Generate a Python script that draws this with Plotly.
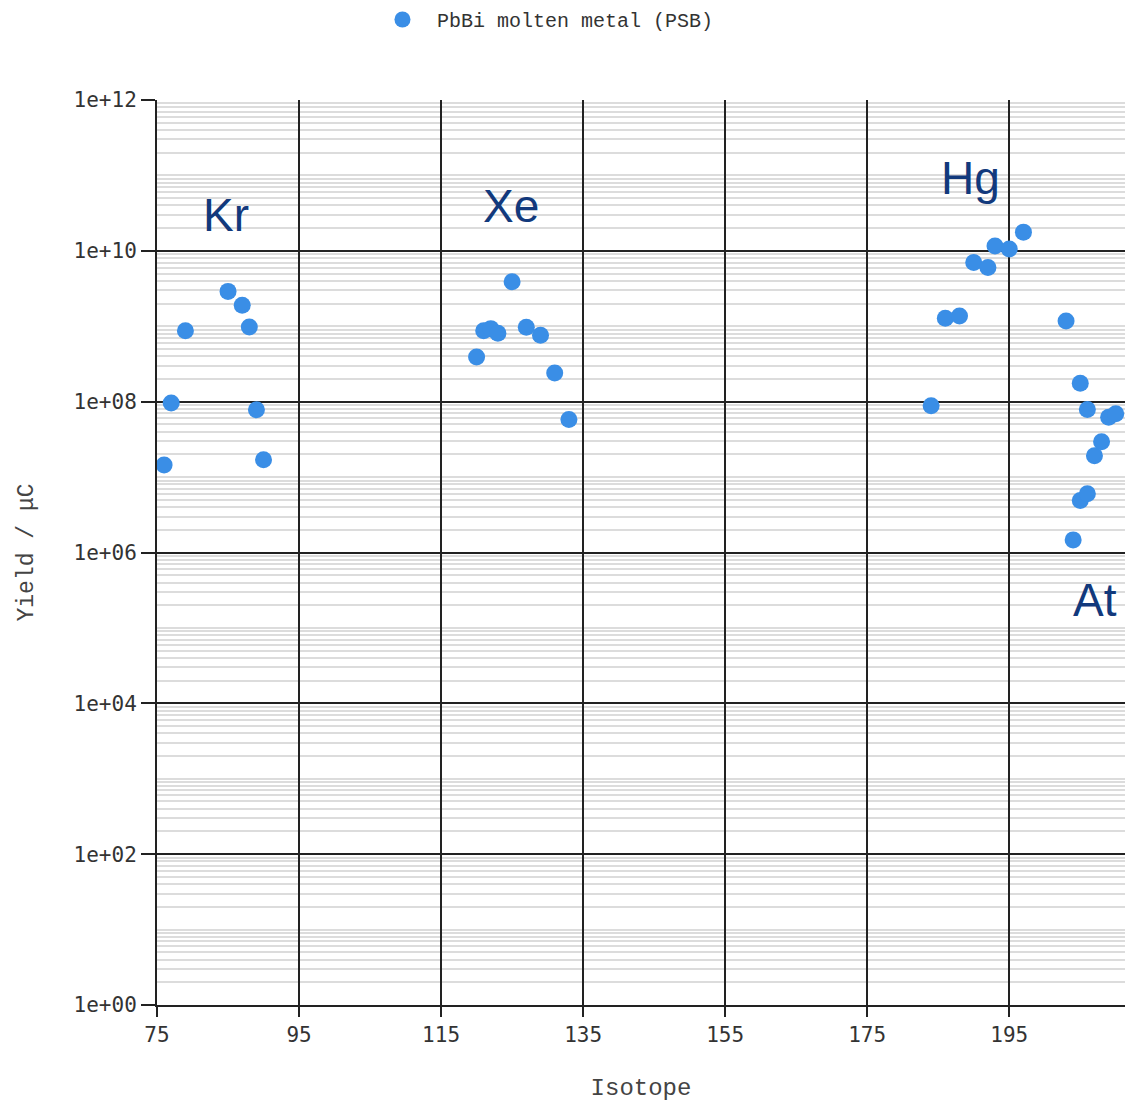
import plotly.graph_objects as go

# Data
kr_mass = [76, 77, 79, 85, 87, 88, 89, 90]
kr_yield = [1.45e7, 9.6e7, 8.7e8, 2.9e9, 1.9e9, 9.8e8, 7.8e7, 1.7e7]

xe_mass = [120, 121, 122, 123, 125, 127, 129, 131, 133]
xe_yield = [3.9e8, 8.7e8, 9.3e8, 8.1e8, 3.9e9, 9.7e8, 7.6e8, 2.4e8, 5.8e7]

hg_mass = [184, 186, 188, 190, 192, 193, 195, 197]
hg_yield = [8.8e7, 1.28e9, 1.37e9, 7.0e9, 6.0e9, 1.16e10, 1.06e10, 1.77e10]

at_mass = [203, 204, 205, 205, 206, 206, 207, 208, 209, 210]
at_yield = [1.17e9, 1.47e6, 1.75e8, 4.9e6, 7.9e7, 6.0e6, 1.92e7, 2.95e7, 6.2e7, 6.9e7]

x_all = kr_mass + xe_mass + hg_mass + at_mass
y_all = kr_yield + xe_yield + hg_yield + at_yield

y_tickvals = [1e0, 1e2, 1e4, 1e6, 1e8, 1e10, 1e12]
y_ticktext = ["1e+00", "1e+02", "1e+04", "1e+06", "1e+08", "1e+10", "1e+12"]

labels = ["Kr", "Xe", "Hg", "At"]
label_x = [84.7, 124.9, 189.5, 207.1]
label_logy = [10.48, 10.59, 10.97, 5.37]

title_font = "Liberation Mono"
tick_font = "DejaVu Sans Mono"

fig = go.Figure()
fig.add_trace(go.Scatter(
    x=x_all, y=y_all, mode="markers",
    name="PbBi molten metal (PSB)",
    marker=dict(color="#3a8ee6", size=17, line=dict(width=0)),
    cliponaxis=False,
))

for t, xx, yy in zip(labels, label_x, label_logy):
    fig.add_annotation(x=xx, y=yy, xref="x", yref="y", text=t, showarrow=False,
                       font=dict(family="Liberation Sans, Arial", size=46, color="#12397c"))

fig.update_layout(
    width=1127, height=1102,
    margin=dict(l=157, r=2, t=100, b=97),
    paper_bgcolor="white", plot_bgcolor="white",
    showlegend=True,
    legend=dict(orientation="h", xref="container", yref="container",
                x=0.3265, xanchor="left", y=1.0, yanchor="top", itemwidth=59,
                font=dict(family=title_font, size=20, color="#333")),
    xaxis=dict(
        range=[75, 211.3], tick0=75, dtick=20,
        showgrid=True, gridcolor="#222", gridwidth=2,
        zeroline=False, showline=True, linecolor="#222", linewidth=2,
        ticks="outside", ticklen=10, tickcolor="#222", tickwidth=2,
        tickfont=dict(family=tick_font, size=21, color="#333"),
        title=dict(text="Isotope", font=dict(family=title_font, size=24, color="#444"), standoff=32),
    ),
    yaxis=dict(
        type="log", range=[0, 12],
        tickmode="array", tickvals=y_tickvals, ticktext=y_ticktext,
        showgrid=True, gridcolor="#222", gridwidth=2,
        zeroline=False, showline=True, linecolor="#222", linewidth=2,
        ticks="outside", ticklen=14, tickcolor="#222", tickwidth=2,
        tickfont=dict(family=tick_font, size=21, color="#333"),
        minor=dict(dtick="D1", showgrid=True, gridcolor="#dcdcdc", gridwidth=2, ticks=""),
        title=dict(text="Yield / μC", font=dict(family=title_font, size=23, color="#444"), standoff=34),
    ),
)

fig.write_html("out.html")
